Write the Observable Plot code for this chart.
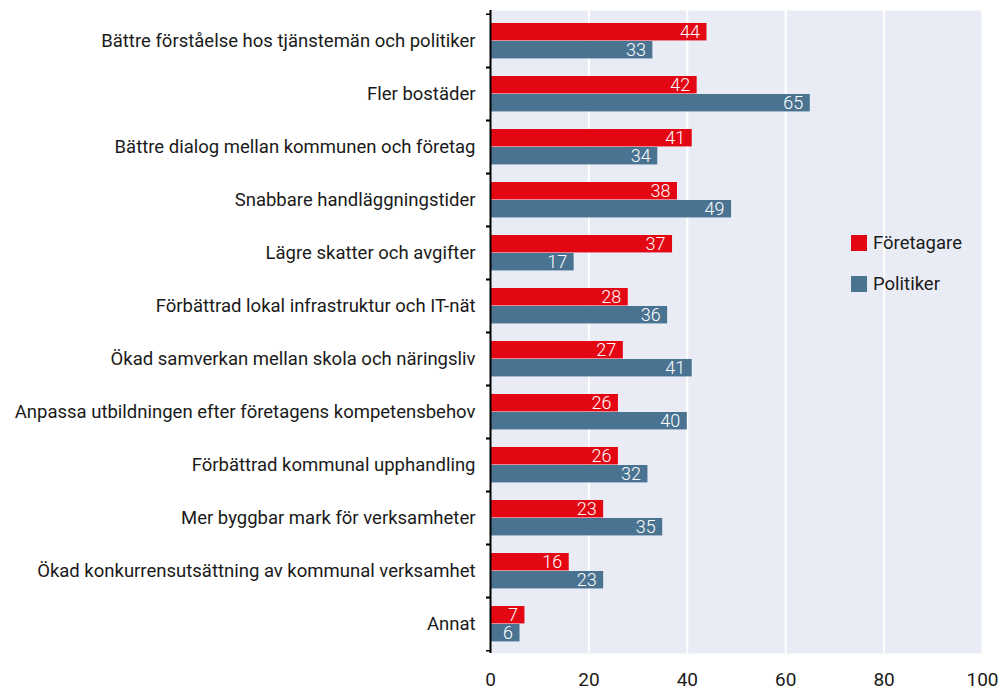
<!DOCTYPE html>
<html>
<head>
<meta charset="utf-8">
<script src="https://cdn.jsdelivr.net/npm/d3@7"></script>
<script src="https://cdn.jsdelivr.net/npm/@observablehq/plot@0.6"></script>
<style>
  body { margin: 0; background: #fff; font-family: Roboto, sans-serif; }
  #wrap { position: relative; width: 1006px; height: 691px; }
  #legend { position: absolute; left: 851px; top: 233px; font-size: 18.5px; color: #1a1a1a; }
  .item { display: flex; align-items: center; height: 20px; margin-bottom: 21px; }
  .sw { width: 16px; height: 16px; margin-right: 6px; }
</style>
</head>
<body>
<div id="wrap">
  <div id="chart"></div>
  <div id="legend"></div>
</div>
<script>
const categories = [
  "Bättre förståelse hos tjänstemän och politiker",
  "Fler bostäder",
  "Bättre dialog mellan kommunen och företag",
  "Snabbare handläggningstider",
  "Lägre skatter och avgifter",
  "Förbättrad lokal infrastruktur och IT-nät",
  "Ökad samverkan mellan skola och näringsliv",
  "Anpassa utbildningen efter företagens kompetensbehov",
  "Förbättrad kommunal upphandling",
  "Mer byggbar mark för verksamheter",
  "Ökad konkurrensutsättning av kommunal verksamhet",
  "Annat"
];
const foretagare = [44, 42, 41, 38, 37, 28, 27, 26, 26, 23, 16, 7];
const politiker = [33, 65, 34, 49, 17, 36, 41, 40, 32, 35, 23, 6];
const seriesNames = ["Företagare", "Politiker"];
const seriesColors = ["#e30613", "#4a7391"];
const xTicks = [0, 20, 40, 60, 80, 100];

const redData = categories.map((c, i) => ({category: c, value: foretagare[i]}));
const blueData = categories.map((c, i) => ({category: c, value: politiker[i]}));

const H = 691, mt = 10, mb = 38;
const bw = (H - mt - mb) / categories.length;

const chart = Plot.plot({
  width: 1006,
  height: H,
  marginLeft: 490,
  marginRight: 24,
  marginTop: mt,
  marginBottom: mb,
  style: {fontFamily: "Roboto, sans-serif", background: "transparent", color: "#1a1a1a"},
  x: {domain: [0, 100]},
  y: {domain: categories, padding: 0},
  marks: [
    Plot.frame({fill: "#e9ecf4", stroke: null}),
    Plot.gridX(xTicks.slice(1), {stroke: "#fff", strokeOpacity: 1, strokeWidth: 2}),
    Plot.barX(redData, {x: "value", y: "category", fill: seriesColors[0], insetTop: 9, insetBottom: bw - 27}),
    Plot.barX(blueData, {x: "value", y: "category", fill: seriesColors[1], insetTop: 27, insetBottom: bw - 45}),
    Plot.text(redData, {x: "value", y: "category", text: "value", fill: "#fff", textAnchor: "end", dx: -7, dy: 18 - bw / 2, fontSize: 18, fontWeight: 300}),
    Plot.text(blueData, {x: "value", y: "category", text: "value", fill: "#fff", textAnchor: "end", dx: -7, dy: 36 - bw / 2, fontSize: 18, fontWeight: 300}),
    Plot.ruleX([0], {stroke: "#000", strokeWidth: 2}),
    Plot.axisY({tickSize: 4, text: null, label: null, dy: -bw / 2, stroke: "#000", strokeWidth: 1.5}),
    Plot.axisY({tickSize: 4, text: null, label: null, dy: bw / 2, stroke: "#000", strokeWidth: 1.5}),
    Plot.axisY({tickSize: 0, tickPadding: 15, fontSize: 18.5, fill: "#1a1a1a", label: null}),
    Plot.axisX({ticks: xTicks, tickSize: 0, tickPadding: 19, fontSize: 19, fill: "#1a1a1a", label: null})
  ]
});
document.getElementById("chart").appendChild(chart);

const legend = document.getElementById("legend");
seriesNames.forEach((name, i) => {
  const item = document.createElement("div");
  item.className = "item";
  const sw = document.createElement("div");
  sw.className = "sw";
  sw.style.background = seriesColors[i];
  const label = document.createElement("span");
  label.textContent = name;
  item.appendChild(sw);
  item.appendChild(label);
  legend.appendChild(item);
});
</script>
</body>
</html>
